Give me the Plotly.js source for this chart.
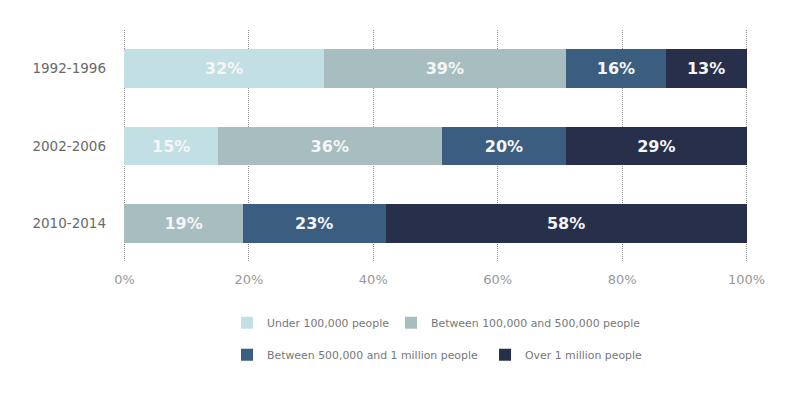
<!DOCTYPE html>
<html>
<head>
<meta charset="utf-8">
<script src="https://cdn.plot.ly/plotly-3.0.1.min.js"></script>
<style>html,body{margin:0;padding:0;background:#fff;}#chart{width:800px;height:393px;}</style>
</head>
<body>
<div id="chart"></div>
<script>
var periods = ["1992-1996", "2002-2006", "2010-2014"];
var seriesNames = ["Under 100,000 people", "Between 100,000 and 500,000 people", "Between 500,000 and 1 million people", "Over 1 million people"];
var under100k = [32, 15, null];
var between100k500k = [39, 36, 19];
var between500k1m = [16, 20, 23];
var over1m = [13, 29, 58];
var seriesColors = ["#c2dfe3", "#a8bdbf", "#3b5e80", "#272f4a"];
var xTickVals = [0, 20, 40, 60, 80, 100];
var xTickText = ["0%", "20%", "40%", "60%", "80%", "100%"];

var seriesValues = [under100k, between100k500k, between500k1m, over1m];
var legendIds = ["legend", "legend", "legend2", "legend2"];
var legendWidths = [119, null, 213, null];

var traces = seriesValues.map(function (vals, i) {
  var t = {
    type: "bar",
    orientation: "h",
    name: seriesNames[i],
    y: periods,
    x: vals,
    text: vals.map(function (v) { return v == null ? "" : v + "%"; }),
    texttemplate: "%{text}",
    marker: {color: seriesColors[i], line: {width: 0}},
    textposition: "inside",
    insidetextanchor: "middle",
    textangle: 0,
    textfont: {family: "DejaVu Sans", size: 16, color: "#f4f6f7", weight: "bold"},
    legend: legendIds[i],
    hoverinfo: "skip"
  };
  if (legendWidths[i]) t.legendwidth = legendWidths[i];
  return t;
});

var layout = {
  width: 800,
  height: 393,
  margin: {l: 122, r: 51, t: 30, b: 131},
  paper_bgcolor: "#ffffff",
  plot_bgcolor: "#ffffff",
  barmode: "stack",
  bargap: 0.5,
  showlegend: true,
  xaxis: {
    range: [-0.4, 100.4],
    tickmode: "array",
    tickvals: xTickVals,
    ticktext: xTickText,
    showgrid: true,
    gridcolor: "#8c8c8c",
    griddash: "1px,1px",
    gridwidth: 1,
    zeroline: false,
    showline: false,
    ticks: "",
    ticklabelstandoff: 8,
    tickfont: {family: "DejaVu Sans", size: 13, color: "#999999"},
    fixedrange: true
  },
  yaxis: {
    categoryorder: "array",
    categoryarray: periods,
    autorange: "reversed",
    showgrid: false,
    zeroline: false,
    showline: false,
    ticks: "",
    ticklabelstandoff: 15,
    tickfont: {family: "DejaVu Sans", size: 13.5, color: "#6a6a6a"},
    fixedrange: true
  },
  legend: {
    orientation: "h",
    x: 0.1675, xanchor: "left",
    y: -0.262, yanchor: "middle",
    font: {family: "DejaVu Sans", size: 10.9, color: "#777777"},
    bgcolor: "rgba(0,0,0,0)",
    traceorder: "normal"
  },
  legend2: {
    orientation: "h",
    x: 0.1675, xanchor: "left",
    y: -0.40, yanchor: "middle",
    font: {family: "DejaVu Sans", size: 10.9, color: "#777777"},
    bgcolor: "rgba(0,0,0,0)",
    traceorder: "normal"
  }
};

Plotly.newPlot("chart", traces, layout, {displayModeBar: false, staticPlot: true});
</script>
</body>
</html>
